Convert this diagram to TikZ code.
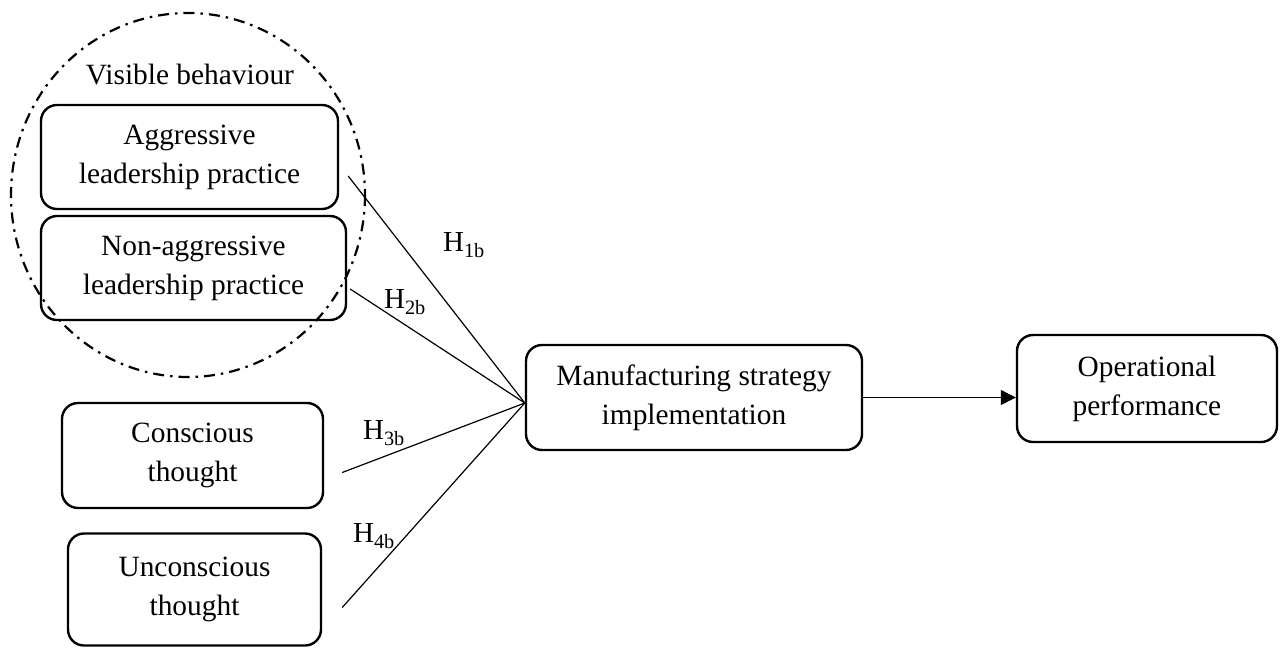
\documentclass[tikz,border=0pt]{standalone}
\usepackage{fontspec}
\setmainfont{Liberation Serif}
\usetikzlibrary{arrows.meta,calc}
\begin{document}
\begin{tikzpicture}[x=1pt,y=-1pt,
  box/.style={draw,line width=2.4pt,rounded corners=16pt,align=center,inner sep=0pt,
    font=\fontsize{29.4}{39}\selectfont},
  link/.style={line width=1.2pt},
  hlab/.style={font=\fontsize{29}{32}\selectfont,inner sep=0pt}]
\useasboundingbox (0,0) rectangle (1283,649);
\draw[line width=2.2pt,dash pattern=on 11pt off 6pt on 2.5pt off 6pt] (188,195) ellipse [x radius=177, y radius=182];
\node[font=\fontsize{29.4}{32}\selectfont] (vis) at (190,75) {Visible behaviour};
\node[box,minimum width=297pt,minimum height=104pt] (agg) at (189.5,157) {Aggressive\\leadership practice};
\node[box,minimum width=305pt,minimum height=104pt] (nagg) at (193.5,268) {Non-aggressive\\leadership practice};
\node[box,minimum width=261pt,minimum height=105pt] (con) at (192.5,455.5) {Conscious\\thought};
\node[box,minimum width=253pt,minimum height=112pt] (uncon) at (194.5,589.5) {Unconscious\\thought};
\node[box,minimum width=336pt,minimum height=105pt] (mfg) at (694,397.5) {Manufacturing strategy\\implementation};
\node[box,minimum width=260pt,minimum height=107pt] (op) at (1147,388.5) {Operational\\performance};
\coordinate (a1) at ($(agg.east)+(9,19)$);
\coordinate (a2) at ($(nagg.east)+(3,21)$);
\coordinate (a3) at ($(con.east)+(18,17)$);
\coordinate (a4) at ($(uncon.east)+(20,18)$);
\coordinate (m) at ($(mfg.west)+(0,5.5)$);
\draw[link] (a1) -- (m);
\draw[link] (a2) -- (m);
\draw[link] (a3) -- (m);
\draw[link] (a4) -- (m);
\draw[link,-{Triangle[length=15pt,width=15pt]}] (mfg.east) -- (mfg.east -| op.west);
\node[hlab] (h1) at (464,245) {H\textsubscript{1b}};
\node[hlab] (h2) at (405,302) {H\textsubscript{2b}};
\node[hlab] (h3) at (384,433) {H\textsubscript{3b}};
\node[hlab] (h4) at (374,536) {H\textsubscript{4b}};
\end{tikzpicture}
\end{document}
